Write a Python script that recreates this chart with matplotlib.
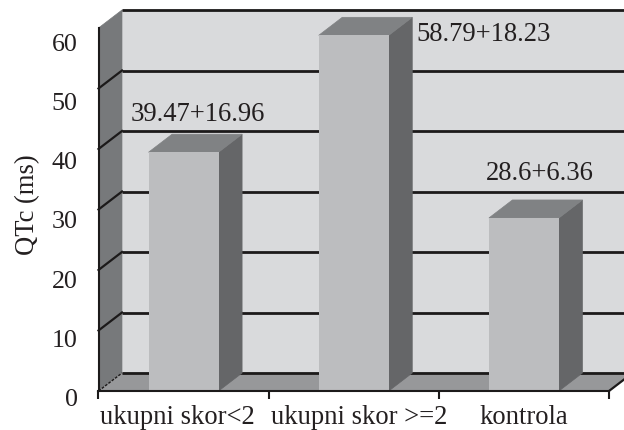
import matplotlib
matplotlib.use("Agg")
import matplotlib.pyplot as plt
from matplotlib.patches import Polygon

categories = ["ukupni skor<2", "ukupni skor >=2", "kontrola"]
values = [39.47, 58.79, 28.6]
value_labels = ["39.47+16.96", "58.79+18.23", "28.6+6.36"]
y_ticks = [0, 10, 20, 30, 40, 50, 60]
y_label = "QTc (ms)"

plt.rcParams["font.family"] = "Liberation Serif"
INK = "#231f20"
W, H = 624, 430
fig = plt.figure(figsize=(W / 100, H / 100), dpi=100, facecolor="white")
L, R, B0, T0 = 98.5, 609.0, 391.0, 28.0
ax = fig.add_axes([L / W, (H - B0) / H, (R - L) / W, (B0 - T0) / H])
ax.set_xlim(-0.5, 2.5)
ax.set_ylim(0, 60)
ux = (R - L) / 3
uy = (B0 - T0) / 60
dx = 23.5 / ux    # depth offset, in category units
dy = 18 / uy      # depth offset, in value units
bw = 70 / ux
x0, x1 = -0.5, 2.5


def poly(pts, color, z):
    ax.add_patch(Polygon(pts, closed=True, facecolor=color, edgecolor=color,
                         linewidth=0.5, zorder=z, clip_on=False))


# Walls and floor
poly([(x0 + dx, dy), (x1 + dx, dy), (x1 + dx, 60 + dy), (x0 + dx, 60 + dy)], "#d9dadc", 1)
poly([(x0, 0), (x0 + dx, dy), (x0 + dx, 60 + dy), (x0, 60)], "#77797b", 1)
poly([(x0, 0), (x1, 0), (x1 + dx, dy), (x0 + dx, dy)], "#97989a", 1)
ax.plot([x0 + dx, x1 + dx], [60 + dy] * 2, color="#8f9092", lw=1, zorder=2, clip_on=False)

# Grid lines on back and side walls
for t in y_ticks:
    ax.plot([x0 + dx, x1 + dx], [t + dy] * 2, color="#1c1a1a", lw=2.0, zorder=2,
            clip_on=False, solid_capstyle="butt")
    if t > 0 and t < 60:
        ax.plot([x0, x0 + dx], [t, t + dy], color="#1c1a1a", lw=1.6, zorder=2, clip_on=False)
ax.plot([x0, x0 + dx], [0, dy], color="#1c1a1a", lw=1.0, ls=(0, (2, 1)), zorder=2, clip_on=False)
ax.plot([x1, x1 + dx], [0, dy], color="#1c1a1a", lw=1.6, zorder=2, clip_on=False)

# Bars
xs = list(range(len(values)))
ax.bar(xs, values, width=bw, color="#bcbdbf", zorder=5, linewidth=0)
for x, v in zip(xs, values):
    l, r = x - bw / 2, x + bw / 2
    poly([(r, 0), (r + dx, dy), (r + dx, v + dy), (r, v)], "#656668", 4)
    poly([(l, v), (r, v), (r + dx, v + dy), (l + dx, v + dy)], "#808284", 4)

# Axes
for s in ("top", "right"):
    ax.spines[s].set_visible(False)
for s in ("left", "bottom"):
    ax.spines[s].set_linewidth(1.5)
    ax.spines[s].set_color("#1c1a1a")
    ax.spines[s].set_zorder(6)
ax.patch.set_visible(False)
ax.set_xticks([-0.5, 0.5, 1.5, 2.5])
ax.set_xticklabels([])
ax.tick_params(axis="x", length=6, width=1.5, color="#1c1a1a")
ax.set_yticks([])

FS = 19.2
for t in y_ticks:
    ax.annotate(str(t), (x0, t), xytext=(-15, -(9 + t / 60 * 8) * 0.72),
                textcoords="offset points", ha="right", va="center",
                fontsize=18.7, color=INK, annotation_clip=False)
label_shift = [-6, 5, 0]
for x, c, sh in zip(xs, categories, label_shift):
    ax.annotate(c, (x, 0), xytext=(sh * 0.72, -27 * 0.72),
                textcoords="offset points", ha="center", va="center",
                fontsize=FS, color=INK, annotation_clip=False)
ax.annotate(y_label, (x0, 30), xytext=(-71 * 0.72, 5 * 0.72), textcoords="offset points",
            rotation=90, ha="center", va="center", fontsize=FS, color=INK, annotation_clip=False)

# Value labels
offsets = [(14, 20), (130, -17), (16, 26)]
for x, v, s, (ox, oy) in zip(xs, values, value_labels, offsets):
    ax.annotate(s, (x, v + dy), xytext=(ox * 0.72, oy * 0.72), textcoords="offset points",
                ha="center", va="center", fontsize=FS, color=INK, zorder=8, annotation_clip=False)

fig.savefig("out.png", dpi=100, facecolor="white")
